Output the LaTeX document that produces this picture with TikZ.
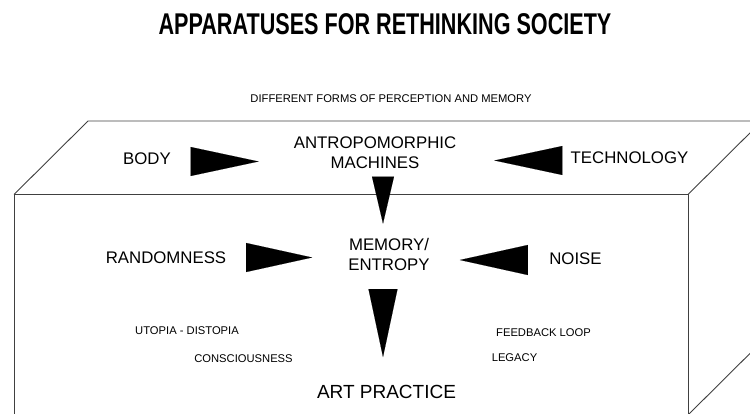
\documentclass[tikz,border=0pt]{standalone}
\usepackage{fontspec}
\setmainfont{Liberation Sans}
\usepackage{graphicx}
\usetikzlibrary{arrows.meta}
\tikzset{
    big/.style={inner sep=0pt, align=center, font=\fontsize{16.8}{20}\selectfont},
    small/.style={inner sep=0pt, font=\fontsize{11.2}{13}\selectfont},
    edge/.style={draw=black!75, line width=0.9pt},
    wedge/.style={-{Triangle[#1]}, line width=0.1pt},
}
\begin{document}
\begin{tikzpicture}[x=1pt,y=1pt]
\useasboundingbox (0,0) rectangle (750,-414);

\node[inner sep=0pt, font=\bfseries\fontsize{30}{36}\selectfont] (title) at (385,-24) {\scalebox{0.72}[1]{APPARATUSES FOR RETHINKING SOCIETY}};
\node[small] (forms) at (391,-99) {DIFFERENT FORMS OF PERCEPTION AND MEMORY};

% the box
\begin{scope}
\clip (0,0) rectangle (750,-414);
\draw[edge] (14,-415) -- (14,-194.5) -- (688,-194.5) -- (688,-415);
\draw[edge] (14,-194.5) -- (88,-121) -- (762,-121) -- (688,-194.5);
\draw[edge] (688,-415) -- (762,-341.5) -- (762,-121);
\end{scope}

\node[big] (body) at (147,-159) {BODY};
\node[big] (mach) at (375,-152.5) {ANTROPOMORPHIC\\MACHINES};
\node[big] (tech) at (629.5,-158) {TECHNOLOGY};
\node[big] (rand) at (166,-257.5) {RANDOMNESS};
\node[big] (mem) at (389,-254) {MEMORY/\\ENTROPY};
\node[big] (noise) at (575.5,-258.5) {NOISE};
\node[big, font=\fontsize{19}{23}\selectfont] (art) at (386.5,-392) {ART PRACTICE};

\node[small] (utopia) at (187,-330.5) {UTOPIA - DISTOPIA};
\node[small] (consc) at (243.5,-358.5) {CONSCIOUSNESS};
\node[small] (feed) at (543.5,-332.5) {FEEDBACK LOOP};
\node[small] (legacy) at (514.5,-358) {LEGACY};

% wedges
\coordinate (axis) at (383,0);
\draw[wedge={length=68pt,width=29pt}, shorten <=21pt, shorten >=35pt] ([yshift=-2.5pt]body.east) -- ([yshift=-2.5pt]body.east -| mach.west);
\draw[wedge={length=68pt,width=29pt}, shorten <=11pt, shorten >=38pt] ([yshift=-2.5pt]tech.west) -- ([yshift=-2.5pt]tech.west -| mach.east);
\draw[wedge={length=47pt,width=22pt}, shorten <=9pt, shorten >=14pt] (mach.south -| axis) -- (mem.north -| axis);
\draw[wedge={length=66pt,width=29pt}, shorten <=20pt, shorten >=36pt] (rand.east) -- (rand.east -| mem.west);
\draw[wedge={length=68pt,width=30pt}, shorten <=24pt, shorten >=30pt] ([yshift=-1.5pt]noise.west) -- ([yshift=-1.5pt]noise.west -| mem.east);
\draw[wedge={length=68pt,width=29pt}, shorten <=19pt, shorten >=28pt] (mem.south -| axis) -- (art.north -| axis);
\end{tikzpicture}
\end{document}
